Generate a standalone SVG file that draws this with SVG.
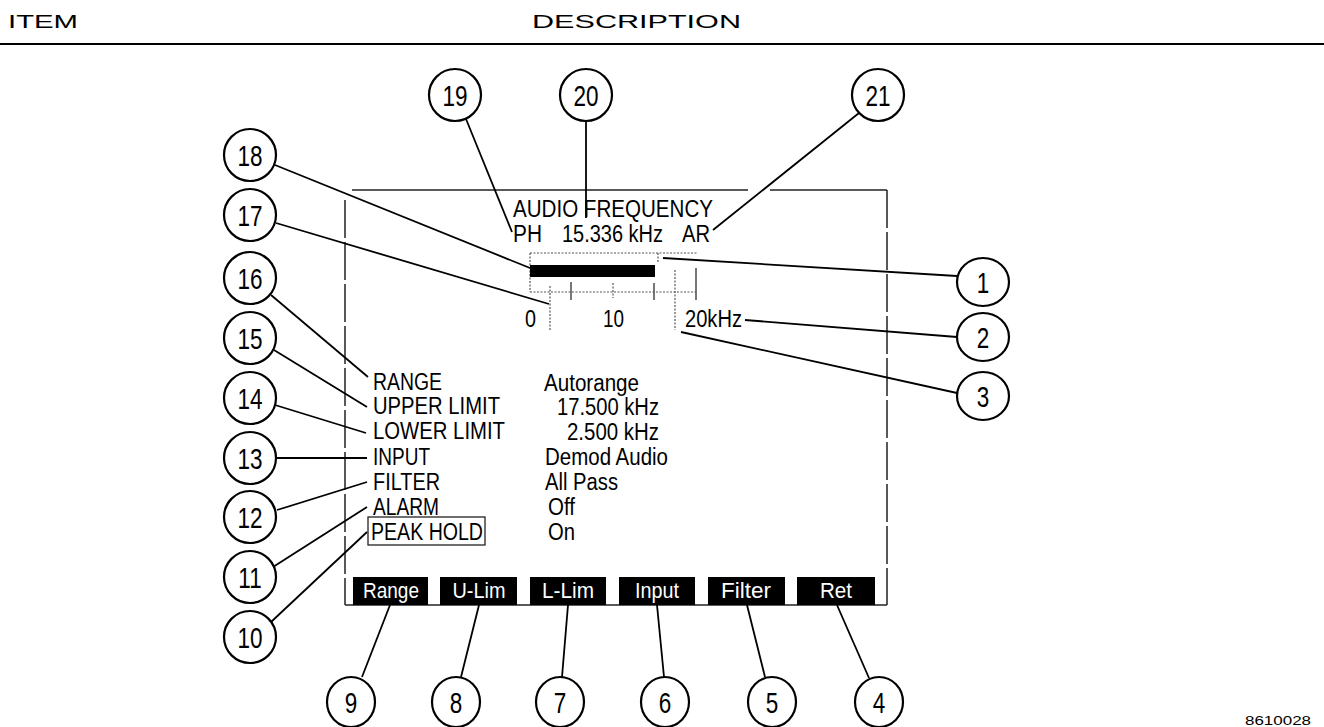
<svg xmlns="http://www.w3.org/2000/svg" width="1324" height="727" viewBox="0 0 1324 727">
<style>
text{font-family:"Liberation Sans",Arial,Helvetica,sans-serif;fill:#000}
.hdr{font-size:19px}
.scr{font-size:23px}
.num{font-size:30px;text-anchor:middle}
.key{font-size:22px;fill:#fff;text-anchor:middle}
.c{fill:#fff;stroke:#000;stroke-width:2.2}
.ld{stroke:#000;stroke-width:1.8;fill:none}
.fr{stroke:#222;stroke-width:1.5;fill:none}
.frd{stroke:#222;stroke-width:1.5;fill:none;stroke-dasharray:38 4}
.dot{stroke:#555;stroke-width:1.2;stroke-dasharray:2 1.5;fill:none}
.tk{stroke:#555;stroke-width:1.6;fill:none}
.kb{fill:#000}
</style>

<g id="header">
  <text class="hdr" x="8" y="28" textLength="70" lengthAdjust="spacingAndGlyphs">ITEM</text>
  <text class="hdr" x="532" y="28" textLength="209" lengthAdjust="spacingAndGlyphs">DESCRIPTION</text>
  <line x1="0" y1="44" x2="1324" y2="44" stroke="#000" stroke-width="2"/>
  <text x="1245" y="725" font-size="13" textLength="66" lengthAdjust="spacingAndGlyphs">8610028</text>
</g>

<g id="screen">
  <line class="fr" x1="352" y1="190" x2="748" y2="190"/>
  <line class="fr" x1="770" y1="190" x2="887" y2="190"/>
  <line class="frd" x1="345" y1="200" x2="345" y2="605"/>
  <line class="frd" x1="887" y1="190" x2="887" y2="605"/>
  <line class="fr" x1="345" y1="605" x2="887" y2="605"/>

  <text class="scr" x="513" y="217" textLength="200" lengthAdjust="spacingAndGlyphs">AUDIO FREQUENCY</text>
  <text class="scr" x="513" y="242" textLength="29" lengthAdjust="spacingAndGlyphs">PH</text>
  <text class="scr" x="562" y="242" textLength="101" lengthAdjust="spacingAndGlyphs">15.336 kHz</text>
  <text class="scr" x="682" y="242" textLength="28" lengthAdjust="spacingAndGlyphs">AR</text>

  <g id="bargraph">
    <line class="dot" x1="530" y1="253" x2="697" y2="253"/>
    <line class="dot" x1="530" y1="253" x2="530" y2="292"/>
    <line class="dot" x1="530" y1="292" x2="697" y2="292"/>
    <line class="dot" x1="658" y1="253" x2="658" y2="262"/>
    <rect x="530" y="265" width="125" height="12" fill="#000"/>
    <line class="tk" x1="571" y1="282" x2="571" y2="300"/>
    <line class="dot" x1="613" y1="283" x2="613" y2="298"/>
    <line class="tk" x1="654" y1="283" x2="654" y2="300"/>
    <line class="tk" x1="696" y1="268" x2="696" y2="300"/>
    <line class="dot" x1="550" y1="286" x2="550" y2="330"/>
    <line class="dot" x1="675" y1="270" x2="675" y2="330"/>
    <text class="scr" x="525" y="327" textLength="11" lengthAdjust="spacingAndGlyphs">0</text>
    <text class="scr" x="603" y="327" textLength="21" lengthAdjust="spacingAndGlyphs">10</text>
    <text class="scr" x="685" y="327" textLength="57" lengthAdjust="spacingAndGlyphs">20kHz</text>
  </g>

  <text class="scr" x="373" y="390" textLength="69" lengthAdjust="spacingAndGlyphs">RANGE</text>
  <text class="scr" x="373" y="414" textLength="127" lengthAdjust="spacingAndGlyphs">UPPER LIMIT</text>
  <text class="scr" x="373" y="439" textLength="132" lengthAdjust="spacingAndGlyphs">LOWER LIMIT</text>
  <text class="scr" x="373" y="465" textLength="57" lengthAdjust="spacingAndGlyphs">INPUT</text>
  <text class="scr" x="373" y="490" textLength="67" lengthAdjust="spacingAndGlyphs">FILTER</text>
  <text class="scr" x="373" y="515" textLength="66" lengthAdjust="spacingAndGlyphs">ALARM</text>
  <rect x="368" y="517" width="117" height="28" fill="none" stroke="#222" stroke-width="1.3"/>
  <text class="scr" x="371" y="540" textLength="112" lengthAdjust="spacingAndGlyphs">PEAK HOLD</text>

  <text class="scr" x="544" y="391" textLength="95" lengthAdjust="spacingAndGlyphs">Autorange</text>
  <text class="scr" x="557" y="415" textLength="102" lengthAdjust="spacingAndGlyphs">17.500 kHz</text>
  <text class="scr" x="567" y="440" textLength="92" lengthAdjust="spacingAndGlyphs">2.500 kHz</text>
  <text class="scr" x="545" y="465" textLength="123" lengthAdjust="spacingAndGlyphs">Demod Audio</text>
  <text class="scr" x="545" y="490" textLength="73" lengthAdjust="spacingAndGlyphs">All Pass</text>
  <text class="scr" x="548" y="515" textLength="27" lengthAdjust="spacingAndGlyphs">Off</text>
  <text class="scr" x="548" y="540" textLength="27" lengthAdjust="spacingAndGlyphs">On</text>

  <g id="softkeys">
    <rect class="kb" x="353" y="577" width="75" height="28"/>
    <text class="key" x="391" y="598" textLength="56" lengthAdjust="spacingAndGlyphs">Range</text>
    <rect class="kb" x="440" y="577" width="77" height="28"/>
    <text class="key" x="479" y="598" textLength="53" lengthAdjust="spacingAndGlyphs">U-Lim</text>
    <rect class="kb" x="530" y="577" width="76" height="28"/>
    <text class="key" x="568" y="598" textLength="52" lengthAdjust="spacingAndGlyphs">L-Lim</text>
    <rect class="kb" x="619" y="577" width="76" height="28"/>
    <text class="key" x="657" y="598" textLength="44" lengthAdjust="spacingAndGlyphs">Input</text>
    <rect class="kb" x="708" y="577" width="77" height="28"/>
    <text class="key" x="746" y="598" textLength="50" lengthAdjust="spacingAndGlyphs">Filter</text>
    <rect class="kb" x="797" y="577" width="78" height="28"/>
    <text class="key" x="836" y="598" textLength="32" lengthAdjust="spacingAndGlyphs">Ret</text>
  </g>
</g>

<g id="connectors">
  <line class="ld" x1="466" y1="119" x2="512" y2="232"/>
  <line class="ld" x1="586" y1="121" x2="586" y2="218"/>
  <line class="ld" x1="859" y1="113" x2="713" y2="230"/>
  <line class="ld" x1="275" y1="165" x2="530" y2="268"/>
  <line class="ld" x1="276" y1="223" x2="549" y2="304"/>
  <line class="ld" x1="271" y1="295" x2="368" y2="377"/>
  <line class="ld" x1="274" y1="350" x2="367" y2="407"/>
  <line class="ld" x1="275" y1="405" x2="366" y2="433"/>
  <line class="ld" x1="277" y1="458" x2="367" y2="458"/>
  <line class="ld" x1="277" y1="510" x2="367" y2="482"/>
  <line class="ld" x1="273" y1="567" x2="367" y2="507"/>
  <line class="ld" x1="271" y1="622" x2="367" y2="532"/>
  <line class="ld" x1="663" y1="258" x2="957" y2="276"/>
  <line class="ld" x1="745" y1="320" x2="957" y2="337"/>
  <line class="ld" x1="681" y1="332" x2="957" y2="393"/>
  <line class="ld" x1="390" y1="605" x2="362" y2="677"/>
  <line class="ld" x1="479" y1="605" x2="461" y2="677"/>
  <line class="ld" x1="568" y1="605" x2="562" y2="677"/>
  <line class="ld" x1="657" y1="605" x2="664" y2="677"/>
  <line class="ld" x1="747" y1="605" x2="765" y2="677"/>
  <line class="ld" x1="837" y1="605" x2="869" y2="678"/>
</g>

<g id="n19"><ellipse class="c" cx="455" cy="95" rx="26" ry="26"/><text class="num" transform="translate(455,106) scale(0.75,1)">19</text></g>
<g id="n20"><ellipse class="c" cx="586" cy="95" rx="26" ry="26"/><text class="num" transform="translate(586,106) scale(0.75,1)">20</text></g>
<g id="n21"><ellipse class="c" cx="878" cy="95" rx="26" ry="26"/><text class="num" transform="translate(878,106) scale(0.75,1)">21</text></g>
<g id="n18"><ellipse class="c" cx="250" cy="155" rx="26" ry="26"/><text class="num" transform="translate(250,166) scale(0.75,1)">18</text></g>
<g id="n17"><ellipse class="c" cx="250" cy="215" rx="26" ry="26"/><text class="num" transform="translate(250,226) scale(0.75,1)">17</text></g>
<g id="n16"><ellipse class="c" cx="250" cy="278" rx="26" ry="26"/><text class="num" transform="translate(250,289) scale(0.75,1)">16</text></g>
<g id="n15"><ellipse class="c" cx="250" cy="338" rx="26" ry="26"/><text class="num" transform="translate(250,349) scale(0.75,1)">15</text></g>
<g id="n14"><ellipse class="c" cx="250" cy="398" rx="26" ry="26"/><text class="num" transform="translate(250,409) scale(0.75,1)">14</text></g>
<g id="n13"><ellipse class="c" cx="250" cy="458" rx="26" ry="26"/><text class="num" transform="translate(250,469) scale(0.75,1)">13</text></g>
<g id="n12"><ellipse class="c" cx="250" cy="517" rx="26" ry="26"/><text class="num" transform="translate(250,528) scale(0.75,1)">12</text></g>
<g id="n11"><ellipse class="c" cx="250" cy="577" rx="26" ry="26"/><text class="num" transform="translate(250,588) scale(0.75,1)">11</text></g>
<g id="n10"><ellipse class="c" cx="250" cy="637" rx="26" ry="26"/><text class="num" transform="translate(250,648) scale(0.75,1)">10</text></g>
<g id="n1"><ellipse class="c" cx="983" cy="282" rx="26" ry="24"/><text class="num" transform="translate(983,293) scale(0.75,1)">1</text></g>
<g id="n2"><ellipse class="c" cx="983" cy="337" rx="26" ry="24"/><text class="num" transform="translate(983,348) scale(0.75,1)">2</text></g>
<g id="n3"><ellipse class="c" cx="983" cy="396" rx="26" ry="24"/><text class="num" transform="translate(983,407) scale(0.75,1)">3</text></g>
<g id="n9"><ellipse class="c" cx="351" cy="702" rx="24" ry="25"/><text class="num" transform="translate(351,713) scale(0.75,1)">9</text></g>
<g id="n8"><ellipse class="c" cx="456" cy="702" rx="24" ry="25"/><text class="num" transform="translate(456,713) scale(0.75,1)">8</text></g>
<g id="n7"><ellipse class="c" cx="560" cy="702" rx="24" ry="25"/><text class="num" transform="translate(560,713) scale(0.75,1)">7</text></g>
<g id="n6"><ellipse class="c" cx="665" cy="702" rx="24" ry="25"/><text class="num" transform="translate(665,713) scale(0.75,1)">6</text></g>
<g id="n5"><ellipse class="c" cx="772" cy="702" rx="24" ry="25"/><text class="num" transform="translate(772,713) scale(0.75,1)">5</text></g>
<g id="n4"><ellipse class="c" cx="879" cy="702" rx="24" ry="25"/><text class="num" transform="translate(879,713) scale(0.75,1)">4</text></g>
</svg>
